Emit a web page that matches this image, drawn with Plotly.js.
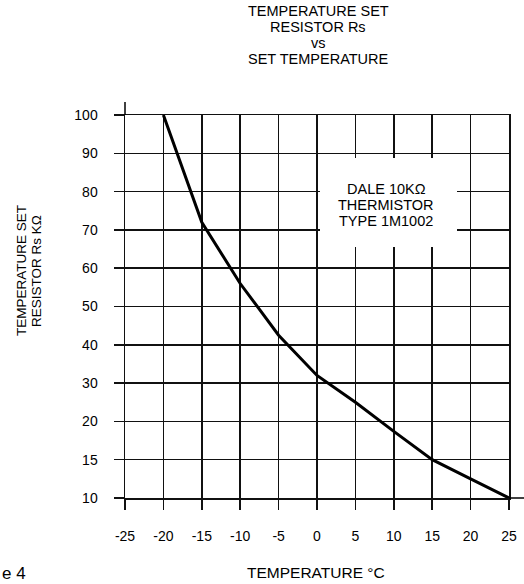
<!DOCTYPE html>
<html>
<head>
<meta charset="utf-8">
<script src="https://cdn.plot.ly/plotly-3.0.1.min.js"></script>
<style>html,body{margin:0;padding:0;background:#fff;}#chart{width:524px;height:584px;}</style>
</head>
<body>
<div id="chart"></div>
<script>
// Set temperature (°C) and temperature-set resistor Rs (kΩ)
const temperatures = [-20, -15, -10, -5, 0, 5, 10, 15, 20, 25];
const resistanceK = [100, 72, 56, 42.5, 32, 25, 18.7, 15, 12.5, 10];

// Y axis tick labels (non-uniform scale, evenly spaced on the chart)
const yTickValues = [100, 90, 80, 70, 60, 50, 40, 30, 20, 15, 10];
const xTickValues = [-25, -20, -15, -10, -5, 0, 5, 10, 15, 20, 25];

const titleLines = ['TEMPERATURE SET', 'RESISTOR Rs', 'vs', 'SET TEMPERATURE'];
const yTitleLines = ['TEMPERATURE SET', 'RESISTOR Rs K\u03A9'];
const xTitle = 'TEMPERATURE \u00B0C';
const noteLines = ['DALE 10K\u03A9', 'THERMISTOR', 'TYPE 1M1002'];
const figureLabel = 'e 4';

// map a resistance value onto the chart's evenly spaced tick scale
function toScale(v) {
  for (let i = 0; i < yTickValues.length - 1; i++) {
    const a = yTickValues[i], b = yTickValues[i + 1];
    if (v <= a && v >= b) return i + (a - v) / (a - b);
  }
  return v > yTickValues[0] ? 0 : yTickValues.length - 1;
}

const FONT = '"Liberation Sans", Arial, Helvetica, sans-serif';
const L = 125, R = 15, T = 115, B = 86;
const W = 524, H = 584;
const pw = W - L - R, ph = H - T - B;
const px = x => (x - L) / pw;
const py = y => (H - B - y) / ph;

const trace = {
  x: temperatures,
  y: resistanceK.map(toScale),
  customdata: resistanceK,
  type: 'scatter',
  mode: 'lines',
  line: {color: '#000', width: 3},
  hovertemplate: '%{x} \u00B0C: %{customdata} k\u03A9<extra></extra>'
};

const annotations = [];
const titleY = [10.7, 26.7, 42.7, 58.7];
titleLines.forEach((t, i) => annotations.push({
  text: t, xref: 'paper', yref: 'paper', x: px(318), y: py(titleY[i]),
  xanchor: 'center', yanchor: 'middle', showarrow: false,
  font: {family: FONT, size: 14.5, color: '#000'}
}));
const yTitleX = [21, 36];
yTitleLines.forEach((t, i) => annotations.push({
  text: t, xref: 'paper', yref: 'paper', x: px(yTitleX[i]), y: py(271),
  xanchor: 'center', yanchor: 'middle', showarrow: false, textangle: -90,
  font: {family: FONT, size: 13.5, color: '#000'}
}));
annotations.push({
  text: xTitle, xref: 'paper', yref: 'paper', x: px(316), y: py(572),
  xanchor: 'center', yanchor: 'middle', showarrow: false,
  font: {family: FONT, size: 15.5, color: '#000'}
});
const noteY = [189, 205, 221];
noteLines.forEach((t, i) => annotations.push({
  text: t, xref: 'paper', yref: 'paper', x: px(386), y: py(noteY[i]),
  xanchor: 'center', yanchor: 'middle', showarrow: false,
  font: {family: FONT, size: 14.5, color: '#000'}
}));
annotations.push({
  text: figureLabel, xref: 'paper', yref: 'paper', x: px(0), y: py(573),
  xanchor: 'left', yanchor: 'middle', showarrow: false,
  font: {family: FONT, size: 17, color: '#000'}
});

const shapes = [
  {type: 'rect', xref: 'paper', yref: 'paper', x0: px(320), x1: px(457), y0: py(247), y1: py(158),
   fillcolor: '#fff', line: {width: 0}, layer: 'above'},
  {type: 'line', xref: 'paper', yref: 'paper', x0: 0, x1: 0, y0: 1, y1: py(102),
   line: {color: '#000', width: 1.5}},
  {type: 'line', xref: 'paper', yref: 'paper', x0: 1, x1: px(524), y0: 0, y1: 0,
   line: {color: '#000', width: 1.5}}
];

const layout = {
  width: W, height: H,
  margin: {l: L, r: R, t: T, b: B, pad: 0},
  paper_bgcolor: '#fff', plot_bgcolor: '#fff',
  showlegend: false,
  font: {family: FONT, size: 14, color: '#000'},
  xaxis: {
    range: [-25, 25], tickmode: 'array', tickvals: xTickValues,
    ticktext: xTickValues.map(String),
    showgrid: true, gridcolor: '#111', gridwidth: 1.5,
    zeroline: false, showline: true, linecolor: '#111', linewidth: 1.5, mirror: true,
    ticks: 'outside', ticklen: 10, tickwidth: 1.5, tickcolor: '#111',
    ticklabelstandoff: 15,
    tickfont: {family: FONT, size: 14, color: '#000'}
  },
  yaxis: {
    range: [yTickValues.length - 1, 0], tickmode: 'array',
    tickvals: yTickValues.map((v, i) => i), ticktext: yTickValues.map(String),
    showgrid: true, gridcolor: '#111', gridwidth: 1.5,
    zeroline: false, showline: true, linecolor: '#111', linewidth: 1.5, mirror: true,
    ticks: 'outside', ticklen: 10, tickwidth: 1.5, tickcolor: '#111',
    ticklabelstandoff: 13,
    tickfont: {family: FONT, size: 14, color: '#000'}
  },
  annotations: annotations,
  shapes: shapes
};

Plotly.newPlot('chart', [trace], layout, {displayModeBar: false, staticPlot: true});
</script>
</body>
</html>
